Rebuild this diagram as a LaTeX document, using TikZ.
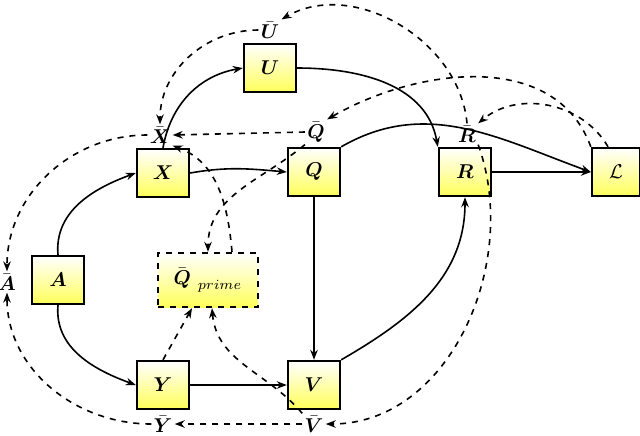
\documentclass[tikz,border=0pt]{standalone}
\usepackage{amsmath,amssymb}
\usepackage{tikz}
\usetikzlibrary{arrows.meta}
\tikzset{
  box/.style={draw,very thick,minimum width=26pt,minimum height=24pt,inner sep=0pt,top color=white,bottom color=yellow!65},
  noise/.style={inner sep=1pt},
  link/.style={-{Stealth[length=5pt]},thick},
  dlink/.style={-{Stealth[length=5pt]},thick,dashed}
}
\begin{document}
\begin{tikzpicture}[x=0.5pt,y=-0.5pt]
\useasboundingbox (0,0) rectangle (640,435);
% observed nodes
\node[box] (U) at (270,68) {$\boldsymbol{U}$};
\node[box] (X) at (163,173) {$\boldsymbol{X}$};
\node[box] (Q) at (314,172) {$\boldsymbol{Q}$};
\node[box] (R) at (465,172) {$\boldsymbol{R}$};
\node[box,minimum width=24pt] (L) at (616,172) {$\mathcal{L}$};
\node[box] (A) at (58,280) {$\boldsymbol{A}$};
\node[box,dashed,minimum width=50pt,minimum height=27pt] (Qp) at (208,280) {$\bar{\boldsymbol{Q}}_{\ prime}$};
\node[box] (Y) at (163,385) {$\boldsymbol{Y}$};
\node[box] (V) at (314,385) {$\boldsymbol{V}$};
% noise labels
\node[noise] (Ub) at (270,30) {$\bar{\boldsymbol{U}}$};
\node[noise] (Xb) at (160,135) {$\bar{\boldsymbol{X}}$};
\node[noise] (Qb) at (316,132) {$\bar{\boldsymbol{Q}}$};
\node[noise] (Rb) at (467,134) {$\bar{\boldsymbol{R}}$};
\node[noise] (Ab) at (7,282) {$\bar{\boldsymbol{A}}$};
\node[noise] (Yb) at (163,424) {$\bar{\boldsymbol{Y}}$};
\node[noise] (Vb) at (314,424) {$\bar{\boldsymbol{V}}$};
% solid
\draw[link] (X.north) to[out=80,in=190] (U.west);
\draw[link] (U.east) to[out=0,in=100] (R.north west);
\draw[link] (X.east) to[out=10,in=175] (Q.west);
\draw[link] (Q.north east) to[out=30,in=160] (L.west);
\draw[link] (R) -- (L);
\draw[link] (A.north) to[out=95,in=200] (X.west);
\draw[link] (A.south) to[out=-95,in=160] (Y.west);
\draw[link] (Y) -- (V);
\draw[link] (Q) -- (V);
\draw[link] (V.north east) to[out=30,in=-90] (R.south);
% dashed
\draw[dlink] (Rb.north) to[out=95,in=30] (Ub.north east);
\draw[dlink] (Ub.west) to[out=180,in=90] (Xb.north);
\draw[dlink] (Qb.west) -- (Xb.east);
\draw[dlink] (L.north west) to[out=110,in=30] (Qb.north east);
\draw[dlink] ([xshift=-4pt]L.north) to[out=120,in=40] (Rb.north east);
\draw[dlink] (Xb.west) to[out=180,in=90] (Ab.north);
\draw[dlink] (Yb.west) to[out=180,in=-90] (Ab.south);
\draw[dlink] (Vb.west) -- (Yb.east);
\draw[dlink] (Rb.south east) to[out=-70,in=0] (Vb.east);
\draw[dlink] ([xshift=12pt]Qp.north) to[out=95,in=-20] (Xb.south east);
\draw[dlink] (Qb.south west) to[out=220,in=90] (Qp.north);
\draw[dlink] (Y.north) -- ([xshift=-8pt]Qp.south);
\draw[dlink] (Vb.north west) to[out=130,in=-85] ([xshift=2pt]Qp.south);
\end{tikzpicture}
\end{document}
